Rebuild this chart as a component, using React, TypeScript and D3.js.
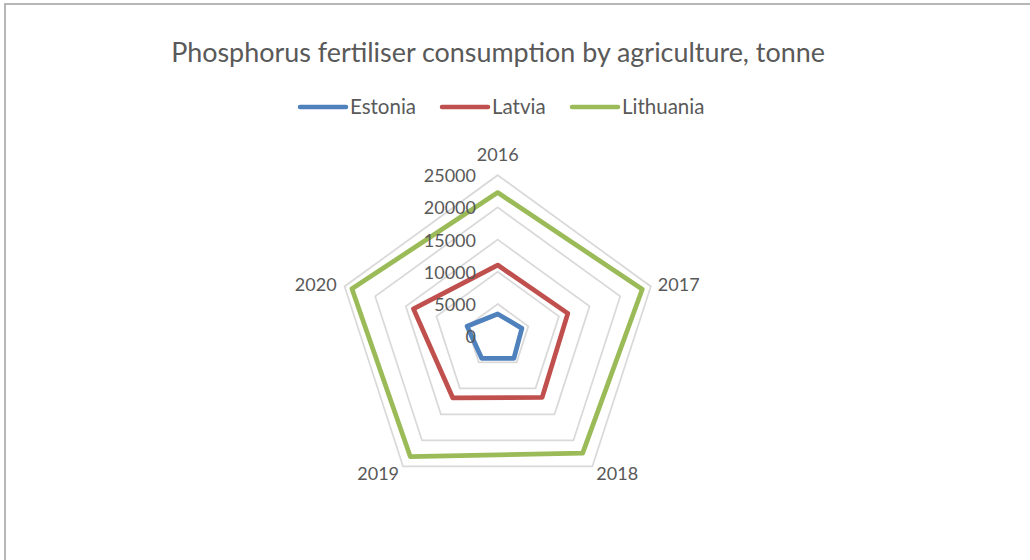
import React from "react";
import * as d3 from "d3";

const categories = ["2016", "2017", "2018", "2019", "2020"];
const seriesNames = ["Estonia", "Latvia", "Lithuania"];
const estonia = [3450, 3950, 4270, 4240, 4990];
const latvia = [11050, 11450, 11750, 11850, 13750];
const lithuania = [22300, 23600, 22450, 23100, 23800];
const tickValues = [0, 5000, 10000, 15000, 20000, 25000];
const colors = ["#4f81bd", "#c0504d", "#9bbb59"];

const W = 1030;
const H = 560;
const cx = 497.7;
const cy = 336.2;
const R = 161;
const FONT = "Lato, 'Open Sans', sans-serif";

export default function App() {
  const r = d3.scaleLinear().domain([0, 25000]).range([0, R]);
  const angle = d3
    .scalePoint<string>()
    .domain(categories)
    .range([0, (2 * Math.PI * (categories.length - 1)) / categories.length]);
  const pt = (c: string, v: number): [number, number] => {
    const a = angle(c)!;
    return [cx + r(v) * Math.sin(a), cy - r(v) * Math.cos(a)];
  };
  const closed = d3.line().curve(d3.curveLinearClosed);
  const allSeries = [estonia, latvia, lithuania];

  const catLabelPos: Record<string, { dx: number; dy: number; anchor: string }> = {
    "2016": { dx: 0, dy: -14, anchor: "middle" },
    "2017": { dx: 7, dy: 5, anchor: "start" },
    "2018": { dx: 4, dy: 14, anchor: "start" },
    "2019": { dx: -4, dy: 14, anchor: "end" },
    "2020": { dx: -8, dy: 5, anchor: "end" },
  };

  const legendX = [298, 440, 570];

  return (
    <svg width={W} height={H} style={{ position: "absolute", left: 0, top: 0 }}>
      <rect x={0} y={0} width={W} height={H} fill="#ffffff" />
      <rect x={5} y={4} width={W + 20} height={H + 20} fill="none" stroke="#a0a0a0" strokeWidth={1.5} />
      <text x={498} y={62} textAnchor="middle" fontFamily={FONT} fontSize={26.9} fill="#595959">
        Phosphorus fertiliser consumption by agriculture, tonne
      </text>
      {seriesNames.map((s, i) => (
        <g key={s}>
          <line x1={legendX[i] + 2} x2={legendX[i] + 48} y1={107} y2={107} stroke={colors[i]} strokeWidth={4.5} strokeLinecap="round" />
          <text x={legendX[i] + 52} y={114} fontFamily={FONT} fontSize={20.5} fill="#595959">
            {s}
          </text>
        </g>
      ))}
      {tickValues.slice(1).map((t) => (
        <path
          key={t}
          d={closed(categories.map((c) => pt(c, t)))!}
          fill="none"
          stroke="#d9d9d9"
          strokeWidth={1.75}
        />
      ))}
      {allSeries.map((vals, i) => (
        <path
          key={seriesNames[i]}
          d={closed(categories.map((c, j) => pt(c, vals[j])))!}
          fill="none"
          stroke={colors[i]}
          strokeWidth={4.75}
          strokeLinejoin="round"
        />
      ))}
      {tickValues.map((t) => (
        <text
          key={t}
          x={476}
          y={cy - r(t) + 7}
          textAnchor="end"
          fontFamily={FONT}
          fontSize={18}
          fill="#595959"
        >
          {t}
        </text>
      ))}
      {categories.map((c) => {
        const [x, y] = pt(c, 25000);
        const p = catLabelPos[c];
        return (
          <text
            key={c}
            x={x + p.dx}
            y={y + p.dy}
            textAnchor={p.anchor as any}
            fontFamily={FONT}
            fontSize={18}
            fill="#595959"
          >
            {c}
          </text>
        );
      })}
    </svg>
  );
}
